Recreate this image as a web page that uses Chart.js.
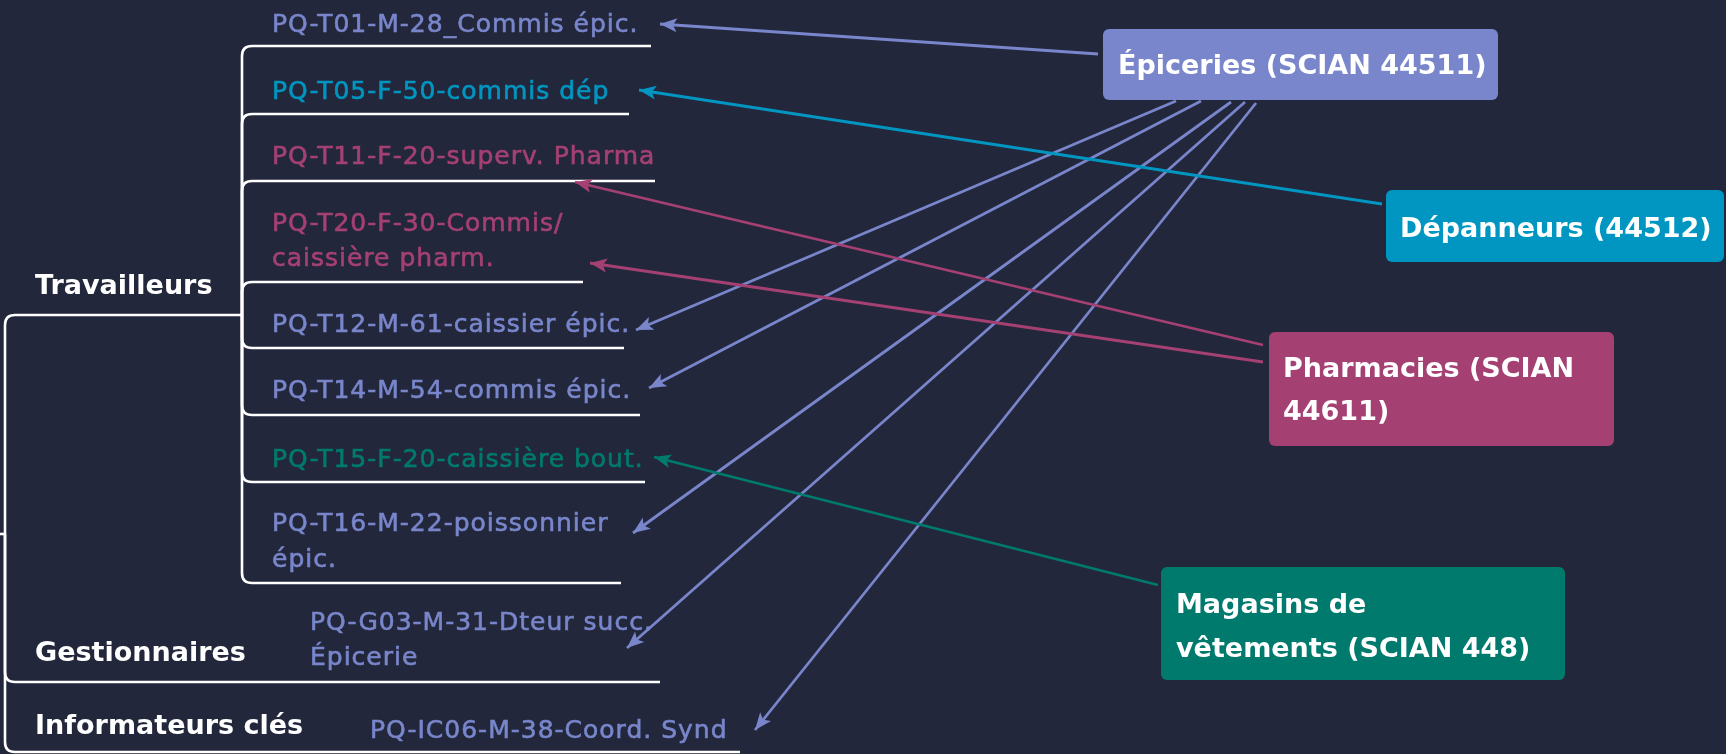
<!DOCTYPE html>
<html>
<head>
<meta charset="utf-8">
<script src="https://cdn.jsdelivr.net/npm/chart.js@4.4.1/dist/chart.umd.min.js"></script>
<style>
  html, body { margin: 0; padding: 0; background: #22273b; }
  #wrap { width: 1726px; height: 754px; }
</style>
</head>
<body>
<div id="wrap"><canvas id="carte" width="1726" height="754"></canvas></div>
<script>
// groupes de participants (branches de gauche)
const groupes = ["Travailleurs", "Gestionnaires", "Informateurs clés"];

// participants, une entrée par ligne de texte
const participants = [
    ["PQ-T01-M-28_Commis épic."],
    ["PQ-T05-F-50-commis dép"],
    ["PQ-T11-F-20-superv. Pharma"],
    ["PQ-T20-F-30-Commis/", "caissière pharm."],
    ["PQ-T12-M-61-caissier épic."],
    ["PQ-T14-M-54-commis épic."],
    ["PQ-T15-F-20-caissière bout."],
    ["PQ-T16-M-22-poissonnier", "épic."],
    ["PQ-G03-M-31-Dteur succ.", "Épicerie"],
    ["PQ-IC06-M-38-Coord. Synd"],
];
const groupeDuParticipant = [0, 0, 0, 0, 0, 0, 0, 0, 1, 2];

// secteurs (SCIAN) et lien de chaque participant vers son secteur
const secteurs = [
    ["Épiceries (SCIAN 44511)"],
    ["Dépanneurs (44512)"],
    ["Pharmacies (SCIAN", "44611)"],
    ["Magasins de", "vêtements (SCIAN 448)"],
];
const secteurDuParticipant = [0, 1, 2, 2, 0, 0, 3, 0, 0, 0];

// ---- mise en page (unités des axes = pixels de l'image) ----
const couleurs = ["#7986cb", "#0096c1", "#a54073", "#007a6d"];
const fond = "#22273b";

const racineX = 5, racineY = 534;
const posGroupe = [
    { x: 35, y: 284, trait: 315, fin: 242 },
    { x: 35, y: 651, trait: 682, fin: 660 },
    { x: 35, y: 724, trait: 752, fin: 740 },
];
const posParticipant = [
    { x: 272, y: [22], trait: 46, fin: 651 },
    { x: 272, y: [89], trait: 114, fin: 629 },
    { x: 272, y: [154], trait: 181, fin: 655 },
    { x: 272, y: [221, 256], trait: 282, fin: 583 },
    { x: 272, y: [322], trait: 348, fin: 624 },
    { x: 272, y: [388], trait: 415, fin: 640 },
    { x: 272, y: [457], trait: 482, fin: 645 },
    { x: 272, y: [521, 557], trait: 583, fin: 621 },
    { x: 310, y: [620, 655], trait: null, fin: null },
    { x: 370, y: [728], trait: null, fin: null },
];
const posSecteur = [
    { x0: 1103, x1: 1498, y0: 29, y1: 100, tx: 1118, ty: [64] },
    { x0: 1386, x1: 1724, y0: 190, y1: 262, tx: 1400, ty: [227] },
    { x0: 1269, x1: 1614, y0: 332, y1: 446, tx: 1283, ty: [367, 410] },
    { x0: 1161, x1: 1565, y0: 567, y1: 680, tx: 1176, ty: [603, 647] },
];
// départ (bord du secteur) et pointe (près du participant) de chaque flèche
const depart = [
    { x: 1098, y: 54 }, { x: 1382, y: 204 }, { x: 1263, y: 345 }, { x: 1263, y: 362 },
    { x: 1176, y: 101 }, { x: 1201, y: 101 }, { x: 1158, y: 585 }, { x: 1231, y: 102 },
    { x: 1245, y: 102 }, { x: 1256, y: 103 },
];
const pointe = [
    { x: 660, y: 24 }, { x: 639, y: 90 }, { x: 575, y: 182 }, { x: 590, y: 263 },
    { x: 636, y: 330 }, { x: 649, y: 388 }, { x: 654, y: 457 }, { x: 633, y: 533 },
    { x: 627, y: 648 }, { x: 755, y: 730 },
];

const policeParticipant = '25px "DejaVu Sans"';
const policeTitre = 'bold 27px "DejaVu Sans"';
const decalageTexte = 3; // le centre visuel des majuscules est plus bas que "middle"

const datasets = participants.map((p, i) => ({
    label: p.join(" "),
    data: [depart[i], pointe[i]],
    showLine: true,
    borderColor: couleurs[secteurDuParticipant[i]],
    borderWidth: 2.8,
    pointRadius: 0,
    fill: false,
    clip: false,
}));

// fond + arborescence (traits blancs aux coins arrondis)
const arbre = {
    id: "arbre",
    beforeDatasetsDraw(chart) {
        const ctx = chart.ctx;
        const sx = chart.scales.x, sy = chart.scales.y;
        const px = (v) => sx.getPixelForValue(v);
        const py = (v) => sy.getPixelForValue(v);
        const r = 10;

        function branche(x, y0, y1, fin) {
            const dir = y1 > y0 ? 1 : -1;
            ctx.beginPath();
            ctx.moveTo(px(x), py(y0));
            ctx.lineTo(px(x), py(y1) - dir * r);
            ctx.quadraticCurveTo(px(x), py(y1), px(x) + r, py(y1));
            ctx.lineTo(px(fin), py(y1));
            ctx.stroke();
        }

        ctx.save();
        ctx.strokeStyle = "#ffffff";
        ctx.lineWidth = 2.6;
        ctx.lineCap = "butt";
        ctx.beginPath();
        ctx.moveTo(px(0), py(racineY));
        ctx.lineTo(px(racineX), py(racineY));
        ctx.stroke();
        posGroupe.forEach((g) => branche(racineX, racineY, g.trait, g.fin));
        posParticipant.forEach((p, i) => {
            if (p.trait === null) return;
            const g = posGroupe[groupeDuParticipant[i]];
            branche(g.fin, g.trait, p.trait, p.fin);
        });
        ctx.restore();
    },
};

// pointes de flèches, boîtes des secteurs et textes
const etiquettes = {
    id: "etiquettes",
    afterDatasetsDraw(chart) {
        const ctx = chart.ctx;
        const sx = chart.scales.x, sy = chart.scales.y;
        const px = (v) => sx.getPixelForValue(v);
        const py = (v) => sy.getPixelForValue(v) + decalageTexte;

        ctx.save();
        chart.data.datasets.forEach((ds, i) => {
            const pts = chart.getDatasetMeta(i).data;
            const a = pts[0], b = pts[1];
            const ang = Math.atan2(b.y - a.y, b.x - a.x);
            ctx.save();
            ctx.translate(b.x, b.y);
            ctx.rotate(ang);
            ctx.beginPath();
            ctx.moveTo(0, 0);
            ctx.lineTo(-17, -7);
            ctx.lineTo(-13, 0);
            ctx.lineTo(-17, 7);
            ctx.closePath();
            ctx.fillStyle = ds.borderColor;
            ctx.fill();
            ctx.restore();
        });

        ctx.textBaseline = "middle";
        ctx.textAlign = "left";

        secteurs.forEach((lignes, i) => {
            const s = posSecteur[i];
            const y0 = sy.getPixelForValue(s.y0), y1 = sy.getPixelForValue(s.y1);
            ctx.fillStyle = couleurs[i];
            ctx.beginPath();
            ctx.roundRect(px(s.x0), y0, px(s.x1) - px(s.x0), y1 - y0, 6);
            ctx.fill();
            ctx.fillStyle = "#ffffff";
            ctx.font = policeTitre;
            lignes.forEach((t, k) => ctx.fillText(t, px(s.tx), py(s.ty[k])));
        });

        ctx.fillStyle = "#ffffff";
        ctx.font = policeTitre;
        groupes.forEach((t, i) => ctx.fillText(t, px(posGroupe[i].x), py(posGroupe[i].y)));

        // texte des participants, un peu épaissi (graisse "medium")
        ctx.font = policeParticipant;
        ctx.letterSpacing = "1px";
        ctx.lineWidth = 0.6;
        participants.forEach((lignes, i) => {
            const p = posParticipant[i];
            ctx.fillStyle = couleurs[secteurDuParticipant[i]];
            ctx.strokeStyle = couleurs[secteurDuParticipant[i]];
            lignes.forEach((t, k) => {
                ctx.fillText(t, px(p.x), py(p.y[k]));
                ctx.strokeText(t, px(p.x), py(p.y[k]));
            });
        });
        ctx.letterSpacing = "0px";
        ctx.restore();
    },
};

const fondPlugin = {
    id: "fond",
    beforeDraw(chart) {
        const ctx = chart.ctx;
        ctx.save();
        ctx.fillStyle = fond;
        ctx.fillRect(0, 0, chart.width, chart.height);
        ctx.restore();
    },
};

new Chart(document.getElementById("carte").getContext("2d"), {
    type: "scatter",
    data: { datasets: datasets },
    options: {
        responsive: false,
        animation: false,
        layout: { padding: 0 },
        plugins: { legend: { display: false }, tooltip: { enabled: false } },
        scales: {
            x: { type: "linear", min: 0, max: 1726, display: false },
            y: { type: "linear", min: 0, max: 754, reverse: true, display: false },
        },
    },
    plugins: [fondPlugin, arbre, etiquettes],
});
</script>
</body>
</html>
